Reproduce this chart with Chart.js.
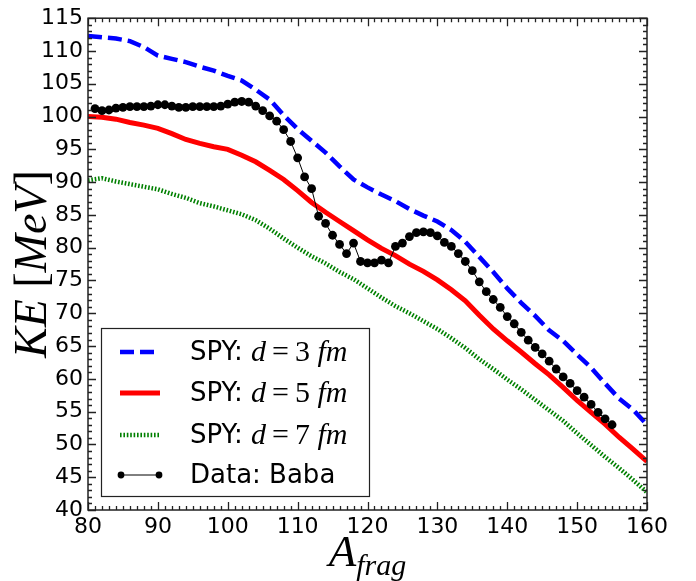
<!DOCTYPE html>
<html>
<head>
<meta charset="utf-8">
<script src="https://cdn.jsdelivr.net/npm/chart.js@4.4.0/dist/chart.umd.min.js"></script>
<style>
  html, body { margin: 0; padding: 0; background: #fff; }
</style>
</head>
<body>
<canvas id="keChart" width="696" height="581"></canvas>
<script>
// ---- data ----
var spyA  = [80, 82, 84, 86, 88, 90, 92, 94, 96, 98, 100, 102, 104, 106, 108, 110, 112, 114, 116, 118,
             120, 122, 124, 126, 128, 130, 132, 134, 136, 138, 140, 142, 144, 146, 148, 150, 152, 154, 156, 158, 160];
var spyD3 = [112.3, 112.1, 111.9, 111.5, 110.6, 109.3, 108.8, 108.3, 107.6, 107.0, 106.2, 105.5, 104.1, 102.6, 100.2,
             98.1, 96.3, 94.5, 92.4, 90.4, 89.2, 88.1, 87.1, 85.9, 84.9, 84.0, 82.7, 80.9, 78.6, 76.3,
             73.8, 71.6, 69.6, 67.4, 65.8, 63.7, 61.7, 59.3, 57.0, 55.3, 53.0];
var spyD5 = [100.0, 99.9, 99.6, 99.1, 98.7, 98.2, 97.4, 96.5, 95.9, 95.4, 95.0, 94.1, 93.1, 91.8, 90.4,
             88.7, 86.9, 85.4, 84.0, 82.6, 81.2, 79.9, 78.8, 77.5, 76.4, 75.1, 73.6, 71.9, 69.7, 67.6,
             65.8, 64.1, 62.3, 60.6, 58.7, 56.7, 54.9, 53.1, 51.1, 49.3, 47.4];
var spyD7 = [90.3, 90.6, 90.1, 89.7, 89.3, 88.9, 88.2, 87.6, 86.8, 86.3, 85.7, 85.1, 84.2, 82.9, 81.4,
             80.0, 78.7, 77.6, 76.3, 75.2, 73.8, 72.4, 71.1, 70.0, 68.8, 67.6, 66.2, 64.7, 63.0, 61.5,
             59.9, 58.4, 56.8, 55.2, 53.6, 51.7, 49.9, 48.1, 46.4, 44.6, 42.7];

var babaA  = [81, 82, 83, 84, 85, 86, 87, 88, 89, 90, 91, 92, 93, 94, 95, 96, 97, 98, 99, 100,
              101, 102, 103, 104, 105, 106, 107, 108, 109, 110, 111, 112, 113, 114, 115, 116, 117, 118, 119, 120,
              121, 122, 123, 124, 125, 126, 127, 128, 129, 130, 131, 132, 133, 134, 135, 136, 137, 138, 139, 140,
              141, 142, 143, 144, 145, 146, 147, 148, 149, 150, 151, 152, 153, 154, 155];
var babaKE = [101.2, 100.9, 101.0, 101.3, 101.4, 101.5, 101.5, 101.5, 101.6, 101.8, 101.8, 101.6, 101.4, 101.4, 101.5,
              101.5, 101.5, 101.5, 101.6, 101.9, 102.2, 102.3, 102.2, 101.6, 100.9, 100.1, 99.3, 98.0, 96.2, 93.7,
              90.8, 89.0, 84.8, 83.7, 81.9, 80.5, 79.1, 80.7, 77.9, 77.7, 77.7, 78.1, 77.7, 80.2, 80.7,
              81.7, 82.3, 82.4, 82.3, 81.8, 80.8, 80.2, 79.1, 77.9, 76.5, 74.8, 73.3, 72.1, 70.9, 69.5,
              68.4, 67.1, 65.9, 64.8, 63.8, 62.7, 61.5, 60.3, 59.3, 58.2, 57.2, 56.1, 54.9, 53.9, 53.0];

var xTickValues = [80, 90, 100, 110, 120, 130, 140, 150, 160];
var yTickValues = [40, 45, 50, 55, 60, 65, 70, 75, 80, 85, 90, 95, 100, 105, 110, 115];
var legendPrefix = ['SPY: ', 'SPY: ', 'SPY: ', 'Data: Baba'];
var legendDist = ['3', '5', '7', null];

var SANS = 'DejaVu Sans';
var SERIF = 'Liberation Serif';

function pairs(xs, ys) {
    return xs.map(function(x, i) { return { x: x, y: ys[i] }; });
}

// draw a row of text runs, each with its own font and baseline shift
function drawRuns(ctx, x, y, runs) {
    runs.forEach(function(r) {
        ctx.font = r.f;
        ctx.fillText(r.t, x, y + (r.dy || 0));
        x += ctx.measureText(r.t).width;
    });
    return x;
}
function runsWidth(ctx, runs) {
    var w = 0;
    runs.forEach(function(r) { ctx.font = r.f; w += ctx.measureText(r.t).width; });
    return w;
}

// box frame with inward major / minor ticks on all four sides
var frameTicks = {
    id: 'frameTicks',
    afterDatasetsDraw: function(chart) {
        var ctx = chart.ctx, a = chart.chartArea;
        var xs = chart.scales.x, ys = chart.scales.y;
        ctx.save();
        ctx.strokeStyle = '#222';
        ctx.lineWidth = 1.3;
        ctx.beginPath();
        var v, p, len;
        for (v = xs.min; v <= xs.max; v += 1) {
            p = Math.round(xs.getPixelForValue(v)) + 0.5;
            len = (v % 10 === 0) ? 8 : 4;
            ctx.moveTo(p, a.bottom); ctx.lineTo(p, a.bottom - len);
            ctx.moveTo(p, a.top); ctx.lineTo(p, a.top + len);
        }
        for (v = ys.min; v <= ys.max; v += 1) {
            p = Math.round(ys.getPixelForValue(v)) + 0.5;
            len = (v % 5 === 0) ? 8 : 4;
            ctx.moveTo(a.left, p); ctx.lineTo(a.left + len, p);
            ctx.moveTo(a.right, p); ctx.lineTo(a.right - len, p);
        }
        ctx.stroke();
        ctx.lineWidth = 1.5;
        ctx.strokeRect(a.left, a.top, a.right - a.left, a.bottom - a.top);
        ctx.restore();
    }
};

// axis titles in math style
var axisTitles = {
    id: 'axisTitles',
    afterDraw: function(chart) {
        var ctx = chart.ctx, a = chart.chartArea;
        ctx.save();
        ctx.fillStyle = '#000';
        ctx.textBaseline = 'alphabetic';
        ctx.textAlign = 'left';
        var xr = [
            { t: 'A', f: 'italic 45px ' + SERIF },
            { t: 'frag', f: 'italic 30px ' + SERIF, dy: 9 }
        ];
        var cx = (a.left + a.right) / 2;
        drawRuns(ctx, cx - runsWidth(ctx, xr) / 2, 566, xr);

        var yr = [
            { t: 'KE', f: 'italic 46px ' + SERIF },
            { t: ' [', f: '46px ' + SERIF },
            { t: 'MeV', f: 'italic 46px ' + SERIF },
            { t: ']', f: '46px ' + SERIF }
        ];
        ctx.translate(46, (a.top + a.bottom) / 2);
        ctx.rotate(-Math.PI / 2);
        drawRuns(ctx, -runsWidth(ctx, yr) / 2, 0, yr);
        ctx.restore();
    }
};

// legend with mixed sans / math text
var mathLegend = {
    id: 'mathLegend',
    afterDraw: function(chart) {
        var ctx = chart.ctx;
        var bx = 101, by = 328, bw = 268, bh = 168;
        ctx.save();
        ctx.fillStyle = '#fff';
        ctx.fillRect(bx, by, bw, bh);
        ctx.strokeStyle = '#222';
        ctx.lineWidth = 1.2;
        ctx.strokeRect(bx + 0.5, by + 0.5, bw, bh);
        var rows = [352, 393, 435, 475];
        chart.data.datasets.forEach(function(ds, i) {
            var y = rows[i];
            ctx.save();
            ctx.strokeStyle = ds.borderColor;
            ctx.lineWidth = ds.borderWidth;
            ctx.lineCap = 'butt';
            ctx.setLineDash(ds.borderDash || []);
            ctx.beginPath();
            ctx.moveTo(120, y); ctx.lineTo(160, y);
            ctx.stroke();
            if (ds.pointRadius) {
                ctx.setLineDash([]);
                ctx.fillStyle = ds.pointBackgroundColor;
                [121, 159].forEach(function(px) {
                    ctx.beginPath(); ctx.arc(px, y, 3.4, 0, Math.PI * 2); ctx.fill();
                });
            }
            ctx.restore();
            ctx.fillStyle = '#000';
            ctx.textBaseline = 'middle';
            var runs = [{ t: legendPrefix[i], f: '26px ' + SANS }];
            if (legendDist[i]) {
                runs.push({ t: 'd', f: 'italic 30px ' + SERIF });
                runs.push({ t: '\u2009=\u2009', f: '30px ' + SERIF });
                runs.push({ t: legendDist[i], f: '30px ' + SERIF });
                runs.push({ t: ' fm', f: 'italic 30px ' + SERIF });
            }
            drawRuns(ctx, 190, y + 1, runs);
        });
        ctx.restore();
    }
};

new Chart(document.getElementById('keChart').getContext('2d'), {
    type: 'line',
    data: {
        datasets: [{
            label: 'SPY: d=3 fm',
            data: pairs(spyA, spyD3),
            borderColor: '#0000ff',
            borderWidth: 4.5,
            borderDash: [14, 6],
            pointRadius: 0,
            tension: 0,
            order: 3
        }, {
            label: 'SPY: d=5 fm',
            data: pairs(spyA, spyD5),
            borderColor: '#ff0000',
            borderWidth: 5,
            pointRadius: 0,
            tension: 0,
            order: 2
        }, {
            label: 'SPY: d=7 fm',
            data: pairs(spyA, spyD7),
            borderColor: '#008000',
            borderWidth: 4.5,
            borderDash: [1.6, 1.8],
            pointRadius: 0,
            tension: 0,
            order: 1
        }, {
            label: 'Data: Baba',
            data: pairs(babaA, babaKE),
            borderColor: '#000',
            borderWidth: 1,
            pointRadius: 4.4,
            pointBackgroundColor: '#000',
            pointBorderColor: '#000',
            pointBorderWidth: 0,
            tension: 0,
            order: 0
        }]
    },
    options: {
        responsive: false,
        animation: false,
        events: [],
        layout: { padding: { left: 0, right: 49, top: 15, bottom: 0 } },
        plugins: { legend: { display: false }, tooltip: { enabled: false } },
        scales: {
            x: {
                type: 'linear', min: 80, max: 160,
                afterFit: function(s) { s.height = 71; },
                afterBuildTicks: function(s) { s.ticks = xTickValues.map(function(v) { return { value: v }; }); },
                grid: { display: false, drawTicks: false },
                border: { display: false },
                ticks: { color: '#000', font: { family: SANS, size: 22 }, padding: 4, maxRotation: 0, autoSkip: false }
            },
            y: {
                type: 'linear', min: 40, max: 115,
                afterFit: function(s) { s.width = 88; },
                afterBuildTicks: function(s) { s.ticks = yTickValues.map(function(v) { return { value: v }; }); },
                grid: { display: false, drawTicks: false },
                border: { display: false },
                ticks: { color: '#000', font: { family: SANS, size: 22 }, padding: 5, autoSkip: false }
            }
        }
    },
    plugins: [frameTicks, axisTitles, mathLegend]
});
</script>
</body>
</html>
